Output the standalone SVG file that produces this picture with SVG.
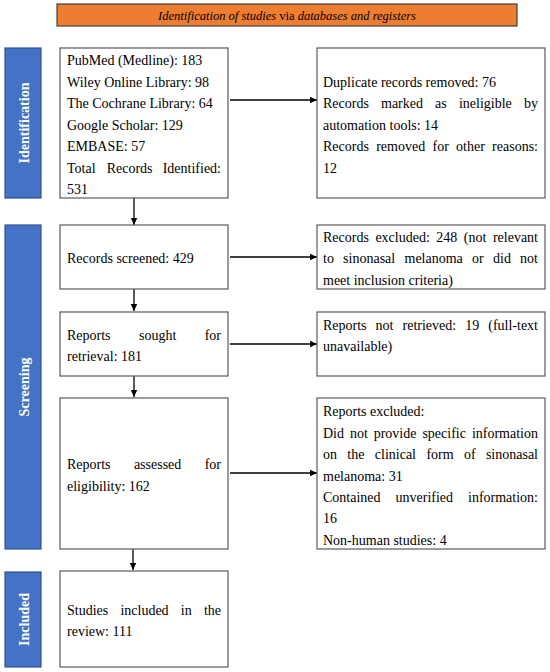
<svg xmlns="http://www.w3.org/2000/svg" width="550" height="672" viewBox="0 0 550 672">
<defs>
<marker id="ah" markerWidth="8" markerHeight="8" refX="7" refY="4" orient="auto" markerUnits="userSpaceOnUse">
<path d="M0,0.8 L7,4 L0,7.2 Z" fill="#000"/>
</marker>
<style>
.box{fill:#fff;stroke:#5a5a5a;stroke-width:1.2}
.side{fill:#4472C4;stroke:#2F528F;stroke-width:1.2}
.t{font-family:"Liberation Serif","Times New Roman",serif;font-size:14px;fill:#000}
.e{text-anchor:end}
.st{font-family:"Liberation Serif","Times New Roman",serif;font-size:14px;font-weight:bold;fill:#fff;text-anchor:middle}
.ban{font-family:"Liberation Serif","Times New Roman",serif;font-size:12.5px;font-style:italic;fill:#000;text-anchor:middle}
.c{stroke:#000;stroke-width:1.3;fill:none;marker-end:url(#ah)}
</style>
</defs>
<rect width="550" height="672" fill="#fff"/>

<g id="banner">
<rect x="57" y="4" width="460" height="22" fill="#ED7D31" stroke="#404040" stroke-width="1.2"/>
<text class="ban" x="287" y="19.5">Identification of studies <tspan font-style="normal">via</tspan> databases and registers</text>
</g>

<g id="side-identification">
<rect class="side" x="5" y="48" width="36" height="150"/>
<text class="st" transform="translate(29,123) rotate(-90)">Identification</text>
</g>
<g id="side-screening">
<rect class="side" x="5" y="225" width="36" height="324"/>
<text class="st" transform="translate(29,387) rotate(-90)">Screening</text>
</g>
<g id="side-included">
<rect class="side" x="5" y="572" width="36" height="95"/>
<text class="st" transform="translate(29,619.5) rotate(-90)">Included</text>
</g>

<g id="connectors">
<line class="c" x1="230" y1="100" x2="317" y2="100"/>
<line class="c" x1="134" y1="198" x2="134" y2="225"/>
<line class="c" x1="230" y1="257" x2="317" y2="257"/>
<line class="c" x1="134" y1="289" x2="134" y2="311"/>
<line class="c" x1="230" y1="344" x2="317" y2="344"/>
<line class="c" x1="134" y1="376" x2="134" y2="397"/>
<line class="c" x1="230" y1="473" x2="317" y2="473"/>
<line class="c" x1="133" y1="549" x2="133" y2="570"/>
</g>

<g id="n-identified">
<rect class="box" x="60" y="48" width="168" height="150"/>
<text class="t" x="67" y="65">PubMed (Medline): 183</text>
<text class="t" x="67" y="86.5">Wiley Online Library: 98</text>
<text class="t" x="67" y="108">The Cochrane Library: 64</text>
<text class="t" x="67" y="129.5">Google Scholar: 129</text>
<text class="t" x="67" y="151">EMBASE: 57</text>
<text class="t" y="172.5"><tspan x="67">Total</tspan><tspan x="106.7">Records</tspan></text>
<text class="t e" x="221" y="172.5">Identified:</text>
<text class="t" x="67" y="194">531</text>
</g>

<g id="n-removed">
<rect class="box" x="317" y="48" width="228" height="150"/>
<text class="t" x="323" y="86.5">Duplicate records removed: 76</text>
<text class="t" y="108"><tspan x="323">Records</tspan><tspan x="381">marked</tspan><tspan x="435.1">as</tspan><tspan x="458.9">ineligible</tspan></text>
<text class="t e" x="538" y="108">by</text>
<text class="t" x="323" y="129.5">automation tools: 14</text>
<text class="t" y="151"><tspan x="323">Records</tspan><tspan x="376.2">removed</tspan><tspan x="432.5">for</tspan><tspan x="456.1">other</tspan></text>
<text class="t e" x="538" y="151">reasons:</text>
<text class="t" x="323" y="172.5">12</text>
</g>

<g id="n-screened">
<rect class="box" x="60" y="225" width="168" height="64"/>
<text class="t" x="67" y="262.5">Records screened: 429</text>
</g>

<g id="n-excluded">
<rect class="box" x="317" y="225" width="228" height="64"/>
<text class="t" y="241.5"><tspan x="323">Records</tspan><tspan x="375.4">excluded:</tspan><tspan x="436.3">248</tspan><tspan x="463.8">(not</tspan></text>
<text class="t e" x="538" y="241.5">relevant</text>
<text class="t" y="263"><tspan x="323">to</tspan><tspan x="343.1">sinonasal</tspan><tspan x="404.5">melanoma</tspan><tspan x="472.1">or</tspan><tspan x="493">did</tspan></text>
<text class="t e" x="538" y="263">not</text>
<text class="t" x="323" y="284.5">meet inclusion criteria)</text>
</g>

<g id="n-sought">
<rect class="box" x="60" y="312" width="168" height="64"/>
<text class="t" y="339.5"><tspan x="67">Reports</tspan><tspan x="139">sought</tspan></text>
<text class="t e" x="221" y="339.5">for</text>
<text class="t" x="67" y="361">retrieval: 181</text>
</g>

<g id="n-notretrieved">
<rect class="box" x="317" y="312" width="228" height="64"/>
<text class="t" y="329.5"><tspan x="323">Reports</tspan><tspan x="375.6">not</tspan><tspan x="402.5">retrieved:</tspan><tspan x="465.2">19</tspan></text>
<text class="t e" x="538" y="329.5">(full-text</text>
<text class="t" x="323" y="351">unavailable)</text>
</g>

<g id="n-assessed">
<rect class="box" x="60" y="398" width="168" height="151"/>
<text class="t" y="469.3"><tspan x="67">Reports</tspan><tspan x="133.9">assessed</tspan></text>
<text class="t e" x="221" y="469.3">for</text>
<text class="t" x="67" y="490.7">eligibility: 162</text>
</g>

<g id="n-reportsexcluded">
<rect class="box" x="317" y="398" width="228" height="151"/>
<text class="t" x="323" y="416">Reports excluded:</text>
<text class="t" y="437.5"><tspan x="323">Did</tspan><tspan x="349.9">not</tspan><tspan x="373.7">provide</tspan><tspan x="422.4">specific</tspan></text>
<text class="t e" x="538" y="437.5">information</text>
<text class="t" y="459"><tspan x="323">on</tspan><tspan x="347.3">the</tspan><tspan x="374.8">clinical</tspan><tspan x="426.4">form</tspan><tspan x="463.9">of</tspan></text>
<text class="t e" x="538" y="459">sinonasal</text>
<text class="t" x="323" y="480.5">melanoma: 31</text>
<text class="t" y="501.5"><tspan x="323">Contained</tspan><tspan x="395.5">unverified</tspan></text>
<text class="t e" x="538" y="501.5">information:</text>
<text class="t" x="323" y="523">16</text>
<text class="t" x="323" y="544.5">Non-human studies: 4</text>
</g>

<g id="n-included">
<rect class="box" x="60" y="571" width="168" height="96"/>
<text class="t" y="615"><tspan x="67">Studies</tspan><tspan x="120.4">included</tspan><tspan x="180.8">in</tspan></text>
<text class="t e" x="221" y="615">the</text>
<text class="t" x="67" y="635.7">review: 111</text>
</g>
</svg>
